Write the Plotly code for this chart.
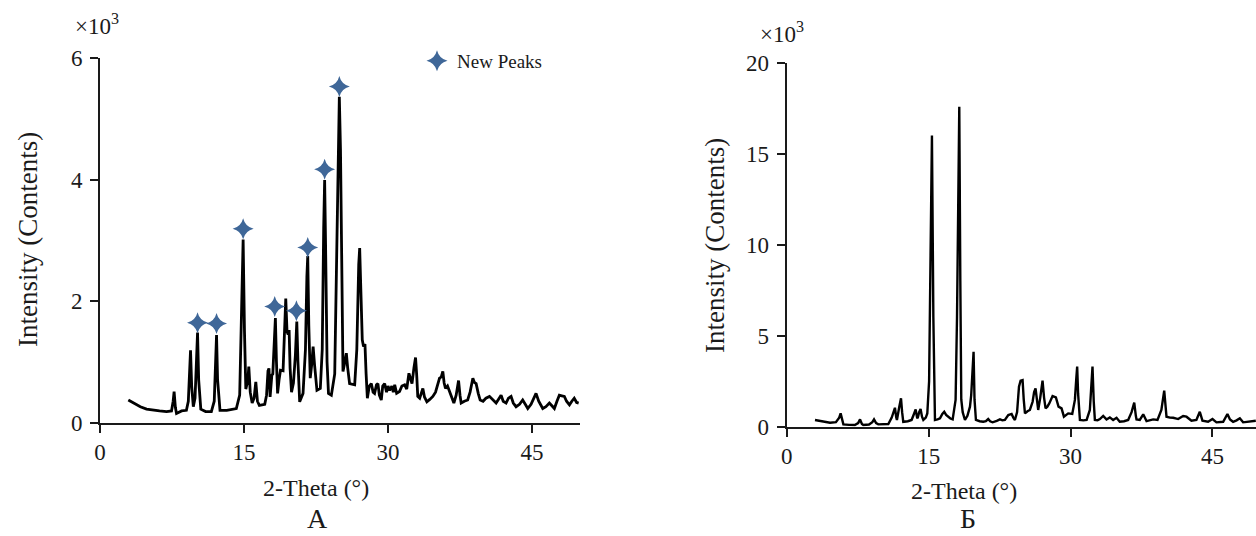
import plotly.graph_objects as go

# ---------------- data ----------------
# Panel A (values in thousands of counts)
a_x = [2.95, 3.5, 4.2, 4.85, 5.5, 6.2, 6.93, 7.45, 7.62, 7.72, 7.85, 7.97, 8.5, 9.0, 9.2, 9.35, 9.43, 9.55, 9.72,
       9.9, 10.05, 10.16, 10.28, 10.5, 11.0, 11.6, 11.9, 12.05, 12.14, 12.25, 12.5, 13.2, 14.2, 14.55, 14.78, 14.91,
       15.05, 15.19, 15.4, 15.5, 15.65, 15.85, 16.05, 16.23, 16.4, 16.6, 17.16, 17.35, 17.5, 17.6, 17.72, 17.9, 18.0,
       18.15, 18.27, 18.38, 18.5, 18.65, 18.8, 19.07, 19.22, 19.35, 19.48, 19.6, 19.7, 19.8, 19.95, 20.15, 20.35, 20.5,
       20.62, 20.8, 21.15, 21.4, 21.55, 21.64, 21.75, 21.9, 22.05, 22.2, 22.35, 22.6, 22.95, 23.15, 23.3, 23.4, 23.5,
       23.65, 23.8, 24.1, 24.45, 24.7, 24.85, 24.93, 25.05, 25.18, 25.31, 25.45, 25.66, 25.8, 26.0, 26.53, 26.75,
       26.95, 27.05, 27.15, 27.32, 27.45, 27.6, 27.72, 27.85, 28.05, 28.26, 28.45, 28.6, 28.8, 28.95, 29.1, 29.3,
       29.45, 29.65, 29.85, 30.0, 30.17, 30.4, 30.55, 30.7, 30.9, 31.2, 31.45, 31.73, 31.95, 32.18, 32.35, 32.5,
       32.7, 32.87, 33.0, 33.1, 33.3, 33.63, 33.8, 34.05, 34.35, 34.67, 34.95, 35.2, 35.37, 35.55, 35.71, 35.85,
       35.99, 36.2, 36.4, 36.6, 36.86, 37.1, 37.35, 37.5, 37.62, 37.95, 38.3, 38.55, 38.75, 38.84, 39.0, 39.18,
       39.4, 39.6, 39.9, 40.2, 40.57, 40.9, 41.26, 41.5, 41.78, 42.0, 42.3, 42.55, 42.82, 43.05, 43.34, 43.7,
       44.03, 44.3, 44.56, 44.9, 45.2, 45.42, 45.7, 46.12, 46.45, 46.81, 47.05, 47.33, 47.6, 47.85, 48.1, 48.37,
       48.6, 48.9, 49.15, 49.4, 49.65, 49.86]
a_y = [0.37, 0.32, 0.26, 0.22, 0.2, 0.19, 0.18, 0.19, 0.35, 0.51, 0.25, 0.15, 0.19, 0.2, 0.35, 0.9, 1.19, 0.6, 0.26,
       0.4, 1.0, 1.48, 0.7, 0.22, 0.18, 0.18, 0.35, 1.0, 1.44, 0.7, 0.2, 0.2, 0.23, 0.45, 1.8, 3.01,
       1.5, 0.55, 0.7, 0.92, 0.5, 0.32, 0.4, 0.67, 0.35, 0.28, 0.3, 0.45, 0.85, 0.89, 0.42, 0.78, 0.8,
       1.3, 1.72, 1.0, 0.48, 0.7, 0.86, 0.85, 1.4, 2.04, 1.5, 1.45, 1.52, 0.9, 0.5, 0.65, 1.1, 1.66,
       1.0, 0.34, 0.48, 1.2, 2.4, 2.74, 1.6, 0.73, 0.95, 1.25, 0.95, 0.53, 0.56, 1.2, 3.2, 3.99, 2.9,
       1.0, 0.48, 0.45, 0.8, 3.0, 5.0, 5.36, 4.5, 2.0, 0.84, 0.95, 1.14, 0.9, 0.64, 0.62, 1.2,
       2.6, 2.87, 2.3, 1.36, 1.25, 1.29, 0.8, 0.4, 0.6, 0.64, 0.5, 0.48, 0.62, 0.64, 0.45, 0.37,
       0.6, 0.64, 0.5, 0.6, 0.53, 0.6, 0.5, 0.62, 0.48, 0.51, 0.6, 0.62, 0.55, 0.81, 0.72, 0.64,
       0.9, 1.07, 0.75, 0.43, 0.4, 0.56, 0.42, 0.34, 0.38, 0.43, 0.5, 0.65, 0.73, 0.75, 0.84, 0.65,
       0.56, 0.6, 0.51, 0.42, 0.32, 0.45, 0.69, 0.45, 0.32, 0.35, 0.37, 0.5, 0.7, 0.73, 0.66, 0.64,
       0.48, 0.37, 0.35, 0.4, 0.43, 0.38, 0.32, 0.38, 0.45, 0.35, 0.32, 0.4, 0.43, 0.32, 0.26, 0.3,
       0.37, 0.3, 0.23, 0.3, 0.42, 0.48, 0.35, 0.23, 0.26, 0.32, 0.28, 0.23, 0.35, 0.45, 0.44, 0.43,
       0.35, 0.29, 0.35, 0.40, 0.33, 0.32]

# New peaks markers (panel A)
star_x = [10.16, 12.14, 14.91, 18.2, 20.46, 21.64, 23.4, 24.93]
star_y = [1.64, 1.63, 3.19, 1.91, 1.84, 2.88, 4.17, 5.53]

# Panel B (values in thousands of counts)
b_x = [2.99, 3.8, 4.58, 5.2, 5.55, 5.7, 5.85, 5.99, 6.6, 7.2, 7.55, 7.75, 7.95, 8.1, 8.7, 9.05, 9.23, 9.45, 9.68,
       10.2, 10.74, 11.1, 11.3, 11.44, 11.58, 11.65, 11.9, 12.08, 12.2, 12.32, 12.8, 13.2, 13.45, 13.63, 13.78,
       13.84, 14.0, 14.15, 14.3, 14.44, 14.7, 14.86, 15.05, 15.2, 15.35, 15.5, 15.6, 15.67, 15.95, 16.2, 16.45,
       16.65, 16.85, 17.08, 17.3, 17.54, 17.75, 17.85, 18.0, 18.12, 18.24, 18.35, 18.45, 18.6, 18.84, 19.1,
       19.37, 19.5, 19.62, 19.75, 19.85, 20.0, 20.4, 20.77, 21.05, 21.3, 21.5, 21.76, 22.2, 22.54, 22.8, 23.06,
       23.42, 23.77, 23.95, 24.12, 24.35, 24.55, 24.72, 24.93, 25.05, 25.18, 25.45, 25.7, 25.99, 26.15, 26.3,
       26.45, 26.58, 26.8, 27.04, 27.2, 27.36, 27.55, 27.75, 28.1, 28.45, 28.73, 29.05, 29.3, 29.5, 29.75,
       30.18, 30.46, 30.6, 30.7, 30.8, 30.99, 31.35, 31.7, 32.04, 32.2, 32.32, 32.45, 32.57, 32.85, 33.1,
       33.45, 33.8, 34.15, 34.5, 34.86, 35.2, 35.65, 36.09, 36.45, 36.73, 36.9, 36.97, 37.32, 37.68, 38.03,
       38.4, 38.73, 39.19, 39.6, 39.9, 40.05, 40.14, 40.5, 40.85, 41.37, 41.9, 42.25, 42.78, 43.3, 43.66,
       43.94, 44.54, 45.0, 45.42, 46.13, 46.4, 46.58, 46.85, 47.18, 47.55, 47.89, 48.24, 48.94, 49.58]
b_y = [0.37, 0.28, 0.22, 0.25, 0.5, 0.73, 0.35, 0.13, 0.1, 0.09, 0.2, 0.40, 0.15, 0.09, 0.12, 0.25, 0.40, 0.2, 0.13,
       0.14, 0.15, 0.5, 0.9, 1.04, 0.5, 0.37, 1.1, 1.56, 0.8, 0.27, 0.3, 0.37, 0.7, 0.95, 0.5,
       0.46, 0.8, 0.97, 0.55, 0.37, 0.5, 0.73, 2.5, 10.0, 16.0, 6.0, 1.0, 0.37, 0.4, 0.46, 0.7,
       0.82, 0.65, 0.55, 0.45, 0.40, 1.0, 1.47, 6.0, 14.0, 17.58, 8.0, 1.5, 0.8, 0.37, 0.6,
       1.10, 1.74, 3.0, 4.12, 1.5, 0.37, 0.3, 0.27, 0.3, 0.42, 0.3, 0.24, 0.32, 0.40, 0.35, 0.37,
       0.64, 0.70, 0.5, 0.37, 0.8, 2.2, 2.53, 2.56, 1.5, 0.73, 0.85, 0.92, 1.37, 1.9, 2.11,
       1.4, 0.92, 1.6, 2.53, 1.6, 1.01, 1.1, 1.28, 1.68, 1.61, 1.10, 1.01, 0.55, 0.65, 0.73,
       0.70, 1.47, 2.6, 3.30, 1.8, 0.37, 0.35, 0.37, 0.92, 2.3, 3.30, 1.4, 0.37, 0.35, 0.42,
       0.59, 0.40, 0.51, 0.37, 0.49, 0.27, 0.3, 0.37, 0.8, 1.32, 0.6, 0.40, 0.37, 0.68, 0.31,
       0.35, 0.40, 0.37, 0.92, 1.98, 0.9, 0.55, 0.5, 0.49, 0.42, 0.59, 0.55, 0.33, 0.37, 0.82,
       0.33, 0.27, 0.42, 0.24, 0.27, 0.5, 0.70, 0.4, 0.27, 0.35, 0.46, 0.24, 0.27, 0.33]

a_yticks = [0, 2, 4, 6]
b_yticks = [0, 5, 10, 15, 20]
x_ticks = [0, 15, 30, 45]

# ---------------- figure ----------------
W, H = 1256, 536
SERIF = "Liberation Serif"
INK = "#1a1a1a"

fig = go.Figure()
fig.add_trace(go.Scatter(x=a_x, y=a_y, mode="lines", line=dict(color="black", width=2.8),
                         xaxis="x", yaxis="y", showlegend=False, hoverinfo="skip"))
fig.add_trace(go.Scatter(x=star_x, y=star_y, mode="markers", name="New Peaks",
                         marker=dict(symbol="star-diamond", size=15, color="#3f6798"),
                         xaxis="x", yaxis="y", showlegend=True))
fig.add_trace(go.Scatter(x=b_x, y=b_y, mode="lines", line=dict(color="black", width=2.4),
                         xaxis="x2", yaxis="y2", showlegend=False, hoverinfo="skip"))


def px_x(p):
    return p / W


def px_y(p):
    return 1 - p / H


axis_common = dict(showline=True, linecolor=INK, linewidth=2, ticks="outside", ticklen=8, tickwidth=2,
                   tickcolor=INK, showgrid=False, zeroline=False, automargin=False,
                   tickfont=dict(family=SERIF, size=23, color=INK))

fig.update_layout(
    width=W, height=H,
    margin=dict(l=0, r=0, t=0, b=0, pad=0, autoexpand=False),
    paper_bgcolor="white", plot_bgcolor="white",
    xaxis=dict(domain=[px_x(100), px_x(580)], range=[0, 50], tickvals=x_ticks, anchor="y", **axis_common),
    yaxis=dict(domain=[px_y(422.5), px_y(58)], range=[0, 6], tickvals=a_yticks, anchor="x",
               ticklabelstandoff=3, **axis_common),
    xaxis2=dict(domain=[px_x(786.7), 1.0], range=[0, 49.6], tickvals=x_ticks, anchor="y2", **axis_common),
    yaxis2=dict(domain=[px_y(426.7), px_y(62.7)], range=[0, 20], tickvals=b_yticks, anchor="x2",
                ticklabelstandoff=3, **axis_common),
    legend=dict(x=px_x(417), y=px_y(42), xanchor="left", yanchor="top", bgcolor="rgba(0,0,0,0)",
                font=dict(family=SERIF, size=19, color=INK), itemwidth=30),
    showlegend=True,
)

ann = []


def label(text, x, y, size, angle=0):
    ann.append(dict(text=text, x=px_x(x), y=px_y(y), xref="paper", yref="paper", showarrow=False,
                    xanchor="center", yanchor="middle", textangle=angle,
                    font=dict(family=SERIF, size=size, color=INK)))


label("2-Theta (°)", 316, 488, 24)
label("2-Theta (°)", 964, 491, 24)
label("Intensity (Contents)", 28, 240, 27, -90)
label("Intensity (Contents)", 715, 246, 27, -90)
label("А", 317, 518, 28)
label("Б", 968, 518, 28)
label("×10<sup>3</sup>", 97, 24, 23)
label("×10<sup>3</sup>", 782, 33, 23)
fig.update_layout(annotations=ann)

fig.write_html("out.html", post_script="document.body.style.margin='0';",
               config={"displayModeBar": False})
